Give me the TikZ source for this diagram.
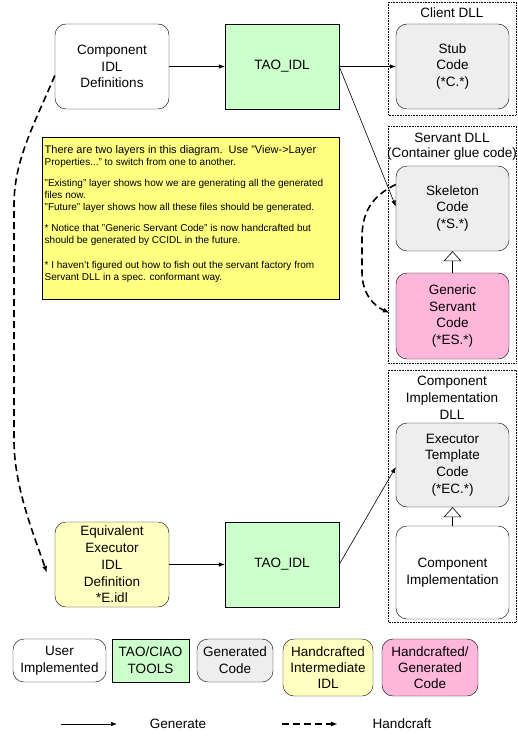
\documentclass[tikz,border=0pt]{standalone}
\usepackage{fontspec}
\setmainfont{Liberation Sans}
\usetikzlibrary{arrows.meta}
\definecolor{toolgreen}{HTML}{CCFFCC}
\definecolor{gencode}{HTML}{EEEEEE}
\definecolor{handidl}{HTML}{FFFFC0}
\definecolor{handgen}{HTML}{FFB6DB}
\definecolor{noteyellow}{HTML}{FFFF80}
\tikzset{
  base/.style={draw, align=center, inner sep=0pt, font=\fontsize{13.5}{16.8}\selectfont},
  rbox/.style={base, rounded corners=11pt},
  tool/.style={base, fill=toolgreen},
  userbox/.style={rbox, fill=white},
  genbox/.style={rbox, fill=gencode},
  idlbox/.style={rbox, fill=handidl},
  hgbox/.style={rbox, fill=handgen},
  container/.style={draw, densely dotted, line width=0.6pt},
  clabel/.style={font=\fontsize{13.5}{16.8}\selectfont, align=center, inner sep=0pt},
  gen/.style={-{Latex[length=6pt,width=4.5pt]}, line width=0.6pt},
  hand/.style={-{Latex[length=7pt,width=5pt]}, line width=1.6pt, dash pattern=on 7pt off 4pt},
  inherit/.style={-{Triangle[open,length=10pt,width=18pt]}, line width=0.6pt},
}
\begin{document}
\begin{tikzpicture}[x=1pt,y=-1pt]
\useasboundingbox (0,0) rectangle (517,751);

% containers
\draw[container] (388,2) rectangle (516,115);
\node[clabel] (lclient) at (452,13) {Client DLL};
\draw[container] (388,126) rectangle (516,363);
\node[clabel] (lservant) at (452,138) {Servant DLL};
\node[clabel] (lglue) at (452,154) {(Container glue code)};
\draw[container] (388,370) rectangle (516,622);
\node[clabel] (limpl) at (452,398) {Component\\Implementation\\DLL};

% main nodes
\node[userbox, minimum width=114pt, minimum height=85pt] (cidl) at (112,66.5) {Component\\IDL\\Definitions};
\node[tool, minimum width=114pt, minimum height=85pt] (tao1) at (282,66.5) {TAO\_IDL};
\node[genbox, minimum width=113pt, minimum height=85pt] (stub) at (452.5,66.5) {Stub\\Code\\(*C.*)};
\node[genbox, minimum width=113pt, minimum height=85pt] (skel) at (452.5,208.5) {Skeleton\\Code\\(*S.*)};
\node[hgbox, minimum width=113pt, minimum height=86pt] (ges) at (452.5,316) {Generic\\Servant\\Code\\(*ES.*)};
\node[genbox, minimum width=113pt, minimum height=84pt] (etc) at (452.5,465) {Executor\\Template\\Code\\(*EC.*)};
\node[userbox, minimum width=113pt, minimum height=93pt] (cimpl) at (452.5,572.5) {Component\\Implementation};
\node[idlbox, minimum width=114pt, minimum height=85pt] (eq) at (112,564.5) {Equivalent\\Executor\\IDL\\Definition\\*E.idl};
\node[tool, minimum width=114pt, minimum height=85pt] (tao2) at (282,564.5) {TAO\_IDL};

% note
\node[draw, fill=noteyellow, minimum width=297pt, minimum height=162pt, inner sep=0pt] (note) at (190.5,218) {};
\node[anchor=north west, align=left, inner sep=0pt] (notetext) at (44.5,145.5)
{\fontsize{11}{11.5}\selectfont There are two layers in this diagram.\ \ Use "View->Layer\\
Properties..." to switch from one to another.\\[8.5pt]
"Existing" layer shows how we are generating all the generated\\
files now.\\
"Future" layer shows how all these files should be generated.\\[9.5pt]
* Notice that "Generic Servant Code" is now handcrafted but\\
should be generated by CCIDL in the future.\\[12.5pt]
* I haven't figured out how to fish out the servant factory from\\
Servant DLL in a spec. conformant way.};

% generate connectors
\draw[gen] (tao1.east) -- ([yshift=2pt]skel.west);
\draw[gen] (cidl.east) -- (tao1.west);
\draw[gen] (tao1.east) -- (stub.west);
\draw[gen] (eq.east) -- (tao2.west);
\draw[gen] (tao2.east) -- ([yshift=-2pt]etc.west);

% inheritance
\draw[inherit] (ges.north) -- (skel.south);
\draw[inherit] (cimpl.north) -- (etc.south);

% handcraft connectors
\coordinate (hcend1) at (47,573);
\draw[hand] ([yshift=-9pt]cidl.west) .. controls (34,125) and (14,160) .. (14,205) -- (14,440) .. controls (14,485) and (32,530) .. (hcend1);
\coordinate (hcend2) at (390,313);
\draw[hand] ([yshift=24pt]skel.west) .. controls (372,196) and (362,212) .. (362,238) -- (362,272) .. controls (362,294) and (374,306) .. (hcend2);

% legend
\node[userbox, minimum width=93pt, minimum height=43pt] (lguser) at (59.5,660.5) {User\\Implemented};
\node[tool, minimum width=77pt, minimum height=43pt] (lgtool) at (150.5,660.5) {TAO/CIAO\\TOOLS};
\node[genbox, minimum width=76pt, minimum height=43pt] (lggen) at (235,660.5) {Generated\\Code};
\node[idlbox, minimum width=90pt, minimum height=57pt, font=\fontsize{13.5}{16}\selectfont] (lgidl) at (328,667.5) {Handcrafted\\Intermediate\\IDL};
\node[hgbox, minimum width=96pt, minimum height=57pt, font=\fontsize{13.5}{16}\selectfont] (lghg) at (430,667.5) {Handcrafted/\\Generated\\Code};

\coordinate (g1) at (61,724);
\coordinate (g2) at (117,724);
\draw[gen] (g1) -- (g2);
\node[clabel] (lgenerate) at (178,724) {Generate};
\coordinate (h1) at (282,724);
\coordinate (h2) at (338,724);
\draw[hand] (h1) -- (h2);
\node[clabel] (lhandcraft) at (402,724) {Handcraft};
\end{tikzpicture}
\end{document}
